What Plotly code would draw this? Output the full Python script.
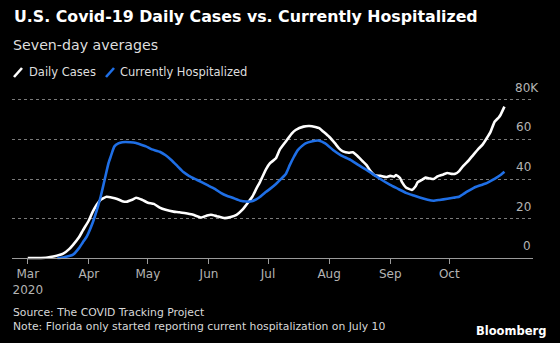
import datetime as dt
import plotly.graph_objects as go

# ---- data (7-day averages, thousands) ----
case_days = [0, 5, 10, 13, 16, 18, 21, 23, 26, 28, 31, 33, 35, 37, 40, 43, 45, 48, 50, 53, 55, 58,
             61, 64, 67, 70, 74, 77, 81, 84, 88, 91, 93, 96, 100, 103, 106, 109, 111, 114, 116, 118,
             121, 123, 126, 128, 131, 134, 136, 140, 143, 146, 148, 150, 153, 156, 158, 160, 163,
             165, 167, 170, 172, 174, 176, 179, 182, 184, 186, 187, 189, 190, 192, 195, 197, 198,
             200, 202, 204, 206, 208, 209, 211, 213, 215, 217, 219, 221, 224, 226, 229, 231, 233,
             235, 237, 239, 240, 242]
case_vals = [0.0, 0.05, 0.3, 0.8, 1.5, 2.2, 4.5, 6.7, 10.5, 14, 19, 23.5, 27, 29.5, 31, 30.5, 30,
             28.8, 28.5, 29.5, 30.5, 29.5, 28, 27.4, 25.5, 24.4, 23.5, 23.2, 22.5, 21.9, 20.5, 21.5,
             21.9, 21.2, 20.2, 20.8, 21.9, 24.5, 27, 31, 35, 38.7, 45, 48, 50.5, 55, 59, 63, 64.8,
             66.5, 66.8, 66.3, 65.7, 64, 61.4, 58, 55.5, 54, 53.3, 53.5, 52, 49, 47, 44, 42, 41.6,
             41, 41.6, 41.2, 42, 40.5, 38.4, 35.7, 34.5, 36.5, 38.4, 39.5, 40.7, 40.3, 40, 41.3,
             41.7, 42.3, 43, 42.6, 42.6, 44, 46.5, 49.6, 52, 55.5, 57.5, 60.6, 64, 69, 71, 72.4, 76.6]

hosp_days = [15, 18, 21, 23, 26, 28, 30, 33, 35, 37, 39, 41, 42, 43, 44, 46, 48, 52, 55, 58, 60,
             63, 67, 70, 73, 76, 79, 82, 86, 91, 95, 98, 101, 104, 108, 111, 113, 116, 118, 121,
             123, 126, 129, 131, 133, 135, 137, 139, 141, 144, 148, 151, 155, 159, 164, 168, 172,
             176, 179, 184, 188, 192, 196, 199, 203, 206, 209, 213, 216, 219, 221, 223, 226, 228,
             231, 233, 236, 238, 240, 242]
hosp_vals = [0, 0.3, 1, 1.7, 5, 8, 11, 18, 24, 31, 39.5, 48, 51, 54, 56.5, 58, 58.6, 58.6, 58.2,
             57.2, 56.5, 55, 53.8, 52, 49.5, 46.5, 43.5, 41.5, 39.5, 37, 35, 33, 31.5, 30.5, 29,
             28.6, 28.6, 29.7, 31, 33.5, 35, 37.5, 40.4, 42.5, 47, 51, 54.5, 56.5, 58, 59, 59.4,
             58, 54.7, 52, 49.6, 47, 44.6, 42, 40, 37, 35, 33, 31.6, 30.6, 29.5, 29, 29.4, 30,
             30.5, 31, 32.3, 33.6, 35.3, 36.2, 37.2, 37.9, 39.5, 40.7, 42, 43.7]

tick_dates = ["2020-03-01", "2020-04-01", "2020-05-01", "2020-06-01", "2020-07-01",
              "2020-08-01", "2020-09-01", "2020-10-01"]
tick_text = ["Mar<br>2020", "Apr", "May", "Jun", "Jul", "Aug", "Sep", "Oct"]
y_ticks = [0, 20, 40, 60, 80]
y_text = ["0", "20", "40", "60", "80K"]

start = dt.date(2020, 3, 1)
case_x = [start + dt.timedelta(days=d) for d in case_days]
hosp_x = [start + dt.timedelta(days=d) for d in hosp_days]

WHITE = "#ffffff"
BLUE = "#1f6fe6"
GRAY = "#b4b4b4"
FONT = "DejaVu Sans"

W, H = 560, 343
L, R, T, B = 12, 27, 96, 81
YMIN, YMAX = -2, 82

fig = go.Figure()
fig.add_trace(go.Scatter(x=case_x, y=case_vals, mode="lines", name="Daily Cases",
                         line=dict(color=WHITE, width=2.6, shape="spline", smoothing=0.4)))
fig.add_trace(go.Scatter(x=hosp_x, y=hosp_vals, mode="lines", name="Currently Hospitalized",
                         line=dict(color=BLUE, width=2.6, shape="spline", smoothing=0.4)))

pw = W - L - R
ph = H - T - B
zero_pos = (0 - YMIN) / (YMAX - YMIN)

annotations = []
for v, t in zip(y_ticks, y_text):
    annotations.append(dict(xref="paper", yref="y", x=1, y=v, text=t, showarrow=False,
                            xanchor="right", yanchor="bottom", yshift=3,
                            xshift=(8 if t.endswith("K") else 0),
                            font=dict(family=FONT, size=12, color=GRAY)))

def px_x(p):
    return (p - L) / pw

def px_y(p):
    return (H - B - p) / ph

def txt(x, y, s, size, color, anchor="left", bold=False):
    annotations.append(dict(xref="paper", yref="paper", x=px_x(x), y=px_y(y),
                            text=(f"<b>{s}</b>" if bold else s), showarrow=False,
                            xanchor=anchor, yanchor="middle",
                            font=dict(family=FONT, size=size, color=color)))

txt(12, 16, "U.S. Covid-19 Daily Cases vs. Currently Hospitalized", 15.8, WHITE, bold=True)
txt(11, 45, "Seven-day averages", 14.2, "#dedede")
txt(27, 72, "Daily Cases", 11.5, "#dedede")
txt(118, 72, "Currently Hospitalized", 11.5, "#dedede")
txt(11, 312, "Source: The COVID Tracking Project", 10.8, "#d8d8d8")
txt(11, 326, "Note: Florida only started reporting current hospitalization on July 10", 10.8, "#d8d8d8")
txt(548, 331, "Bloomberg", 11.5, WHITE, anchor="right", bold=True)

shapes = [
    dict(type="line", xref="paper", yref="paper", x0=px_x(14), y0=px_y(77), x1=px_x(22), y1=px_y(68),
         line=dict(color=WHITE, width=2.6)),
    dict(type="line", xref="paper", yref="paper", x0=px_x(106), y0=px_y(77), x1=px_x(114), y1=px_y(68),
         line=dict(color=BLUE, width=2.6)),
]

fig.update_layout(
    width=W, height=H,
    margin=dict(l=L, r=R, t=T, b=B, pad=0),
    paper_bgcolor="#000000", plot_bgcolor="#000000",
    showlegend=False,
    annotations=annotations,
    shapes=shapes,
    xaxis=dict(range=["2020-02-22", "2020-11-12 12:00"], tickvals=tick_dates, ticktext=tick_text,
               showgrid=False, zeroline=False, showline=True, linecolor="#9a9a9a", linewidth=1,
               ticks="outside", ticklen=5, tickcolor="#9a9a9a", tickwidth=1,
               anchor="free", position=zero_pos,
               tickfont=dict(family=FONT, size=12, color=GRAY)),
    yaxis=dict(range=[YMIN, YMAX], tickvals=[20, 40, 60, 80], showticklabels=False,
               showgrid=True, gridcolor="#7a7a7a", griddash="dot", gridwidth=1,
               zeroline=False, showline=False, ticks=""),
)

fig.write_html("out.html")
